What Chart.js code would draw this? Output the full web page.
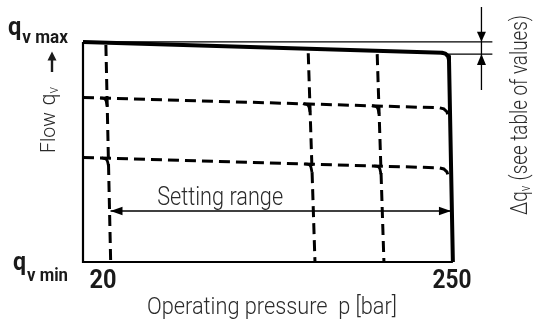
<!DOCTYPE html>
<html>
<head>
<meta charset="utf-8">
<script src="https://cdn.jsdelivr.net/npm/chart.js@4"></script>
<style>
  html, body { margin: 0; padding: 0; background: #fff; }
  #wrap { width: 536px; height: 320px; }
</style>
</head>
<body>
<div id="wrap"><canvas id="pumpChart" width="536" height="320"></canvas></div>
<script>
// axis ranges (pressure in bar, flow in % of qv max)
const pressureMin = 3.3;
const pressureMax = 282.1;
const flowMin = 0;
const flowMax = 100;
const pressureTicks = [20, 250];
const pressureTickLabels = ['20', '250'];

// characteristic at max flow / max pressure
const mainCurveP = [3.3, 243.3, 245.6, 247.4, 248.0, 250.6];
const mainCurveQ = [100, 95.1, 94.7, 93.5, 91.9, 0];

// reduced flow settings
const level1P = [3.3, 241.5, 244.5, 246.6, 247.6];
const level1Q = [74.8, 70.1, 69.6, 68.3, 66.2];
const level2P = [3.3, 241.5, 244.5, 246.6, 247.6];
const level2Q = [47.5, 42.8, 42.3, 41.0, 38.9];

// pressure cut-off settings
const cutoffTopP = [18.6, 153.9, 200.0];
const cutoffTopQ = [98.6, 94.9, 94.5];
const cutoffBottomP = [21.8, 158.4, 204.5];

// setting range arrow
const rangeFlow = 23.2;
const rangeFromP = 21.7;
const rangeToP = 249.3;
const rangeLabelP = 95;
const rangeLabelQ = 25.9;

// delta qv dimension
const dimRefQ = [100.1, 94.5];
const dimRefStartP = [3.3, 243];
const dimRefEndP = 277;
const dimLineP = 269.7;
const dimLineQ = [115.9, 78.2];

const TEXT_FONT = 'Roboto, "Noto Sans", sans-serif';
const TEXT_COLOR = '#2b2b2b';

function pts(ps, qs) {
    return ps.map((p, i) => ({ x: p, y: qs[i] }));
}

// where a cut-off line crosses a flow level
function crossing(i, lp, lq) {
    let q = lq[0], p = cutoffBottomP[i];
    for (let k = 0; k < 4; k++) {
        p = cutoffBottomP[i] + (cutoffTopP[i] - cutoffBottomP[i]) * q / cutoffTopQ[i];
        q = lq[0] + (lq[1] - lq[0]) * (p - lp[0]) / (lp[1] - lp[0]);
    }
    return { p, q };
}

const dashed = { borderColor: '#000', borderWidth: 3, borderDash: [11, 6], pointRadius: 0, fill: false, clip: false, tension: 0 };
const thin = { borderColor: '#000', borderWidth: 1.3, pointRadius: 0, fill: false, clip: false, tension: 0 };

const datasets = [];

[[level1P, level1Q], [level2P, level2Q]].forEach(([lp, lq]) => {
    datasets.push({ ...dashed, data: pts(lp, lq) });
});

cutoffTopP.forEach((p, i) => {
    datasets.push({ ...dashed, data: [{ x: p, y: cutoffTopQ[i] }, { x: cutoffBottomP[i], y: 0 }] });
});

// small rounded corners where the cut-off lines meet the reduced flow lines
cutoffTopP.forEach((p, i) => {
    [[level1P, level1Q], [level2P, level2Q]].forEach(([lp, lq]) => {
        const c = crossing(i, lp, lq);
        datasets.push({
            borderColor: '#000', borderWidth: 2.8, pointRadius: 0, fill: false, clip: false, tension: 0.4,
            data: [{ x: c.p - 4.6, y: c.q + 0.2 }, { x: c.p - 1.2, y: c.q - 0.6 }, { x: c.p + 0.1, y: c.q - 3.6 }]
        });
    });
});

// axes frame
datasets.push({ ...thin, borderWidth: 2.2, data: [{ x: pressureMin, y: flowMax }, { x: pressureMin, y: flowMin }, { x: mainCurveP[mainCurveP.length - 1], y: flowMin }] });

// delta qv reference lines and dimension line
dimRefQ.forEach((q, i) => {
    datasets.push({ ...thin, data: [{ x: dimRefStartP[i], y: q }, { x: dimRefEndP, y: q }] });
});
datasets.push({ ...thin, data: [{ x: dimLineP, y: dimLineQ[0] }, { x: dimLineP, y: dimLineQ[1] }] });

// setting range
datasets.push({ ...thin, borderWidth: 1.4, data: [{ x: rangeFromP, y: rangeFlow }, { x: rangeToP, y: rangeFlow }] });

// main curve on top
datasets.push({ borderColor: '#000', borderWidth: 4, pointRadius: 0, fill: false, clip: false, tension: 0, borderJoinStyle: 'round', data: pts(mainCurveP, mainCurveQ) });

function arrowHead(ctx, x, y, dx, dy, len, half) {
    const nx = -dy, ny = dx;
    ctx.beginPath();
    ctx.moveTo(x, y);
    ctx.lineTo(x - dx * len + nx * half, y - dy * len + ny * half);
    ctx.lineTo(x - dx * len - nx * half, y - dy * len - ny * half);
    ctx.closePath();
    ctx.fill();
}

// draws a row of text runs squeezed to a given width (condensed look)
function drawRuns(ctx, runs, x, y, width, align) {
    let total = 0;
    runs.forEach(r => {
        ctx.font = r.font;
        r.w = ctx.measureText(r.text).width;
        total += r.w + (r.gap || 0);
    });
    const sx = width / total;
    ctx.save();
    ctx.translate(x, y);
    ctx.scale(sx, 1);
    let cx = align === 'center' ? -total / 2 : 0;
    ctx.textAlign = 'left';
    runs.forEach(r => {
        cx += r.gap || 0;
        ctx.font = r.font;
        ctx.fillText(r.text, cx, r.dy || 0);
        cx += r.w;
    });
    ctx.restore();
}

const labelsPlugin = {
    id: 'labels',
    afterDatasetsDraw(chart) {
        const ctx = chart.ctx;
        const xs = chart.scales.x, ys = chart.scales.y;
        ctx.save();
        ctx.fillStyle = '#000';
        ctx.textBaseline = 'alphabetic';

        // arrow heads of the setting range
        const ry = ys.getPixelForValue(rangeFlow);
        arrowHead(ctx, xs.getPixelForValue(rangeFromP), ry, -1, 0, 12, 4.2);
        arrowHead(ctx, xs.getPixelForValue(rangeToP), ry, 1, 0, 12, 4.2);

        // arrow heads of the delta qv dimension
        const dx = xs.getPixelForValue(dimLineP);
        arrowHead(ctx, dx, ys.getPixelForValue(dimRefQ[0]), 0, 1, 10, 4.5);
        arrowHead(ctx, dx, ys.getPixelForValue(dimRefQ[1]), 0, -1, 11, 4.5);

        // pressure tick labels
        ctx.fillStyle = '#1a1a1a';
        const bold = 'bold 26px ' + TEXT_FONT;
        const tickY = ys.getPixelForValue(flowMin) + 25.5;
        drawRuns(ctx, [{ text: pressureTickLabels[0], font: bold }], xs.getPixelForValue(pressureTicks[0]) - 5, tickY, 27, 'center');
        drawRuns(ctx, [{ text: pressureTickLabels[1], font: bold }], xs.getPixelForValue(pressureTicks[1]), tickY, 39, 'center');

        // flow limits
        const yTop = ys.getPixelForValue(flowMax);
        const yBot = ys.getPixelForValue(flowMin);
        const qFont = 'bold 25px ' + TEXT_FONT, sFont = 'bold 18px ' + TEXT_FONT;
        drawRuns(ctx, [{ text: 'q', font: qFont }, { text: 'v max', font: sFont, dy: 7.5, gap: 1 }], 8, yTop - 7, 60, 'left');
        drawRuns(ctx, [{ text: 'q', font: qFont }, { text: 'v min', font: sFont, dy: 11.5, gap: 1 }], 13, yBot + 7.5, 55, 'left');

        // upward arrow under qv max
        ctx.strokeStyle = '#1a1a1a';
        ctx.lineWidth = 2.4;
        ctx.beginPath();
        ctx.moveTo(52, yTop + 30);
        ctx.lineTo(52, yTop + 17);
        ctx.stroke();
        arrowHead(ctx, 52, yTop + 9.5, 0, -1, 9, 4.5);

        // rotated y title
        ctx.fillStyle = TEXT_COLOR;
        const light = s => '300 ' + s + 'px ' + TEXT_FONT;
        ctx.save();
        ctx.translate(55, 153);
        ctx.rotate(-Math.PI / 2);
        drawRuns(ctx, [
            { text: 'Flow', font: light(20) },
            { text: 'q', font: light(22), gap: 7 },
            { text: 'v', font: light(14), dy: 3 }
        ], 0, 0, 66, 'left');
        ctx.restore();

        // rotated delta qv note
        ctx.save();
        ctx.translate(527, 215);
        ctx.rotate(-Math.PI / 2);
        drawRuns(ctx, [
            { text: '\u0394q', font: light(23) },
            { text: 'v', font: light(14), dy: 3 },
            { text: ' (see table of values)', font: light(23), gap: 1 }
        ], 0, 0, 200, 'left');
        ctx.restore();

        // setting range label
        drawRuns(ctx, [{ text: 'Setting range', font: light(25) }], xs.getPixelForValue(rangeLabelP), ys.getPixelForValue(rangeLabelQ), 126, 'center');

        // x title
        drawRuns(ctx, [{ text: 'Operating pressure  p [bar]', font: light(24) }], 272, 314, 250, 'center');

        ctx.restore();
    }
};

new Chart(document.getElementById('pumpChart'), {
    type: 'line',
    data: { datasets },
    options: {
        responsive: false,
        animation: false,
        devicePixelRatio: 1,
        layout: { padding: { left: 83, right: 36, top: 42, bottom: 58 } },
        plugins: { legend: { display: false }, tooltip: { enabled: false } },
        scales: {
            x: { type: 'linear', min: pressureMin, max: pressureMax, display: false },
            y: { type: 'linear', min: flowMin, max: flowMax, display: false }
        }
    },
    plugins: [labelsPlugin]
});
</script>
</body>
</html>
